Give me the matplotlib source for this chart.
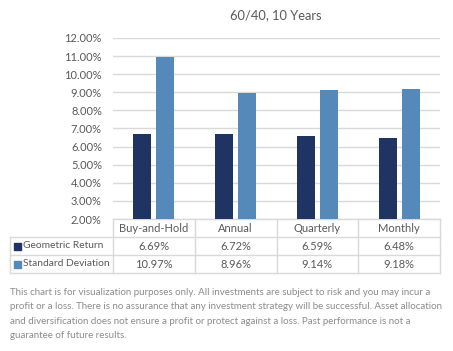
import matplotlib.pyplot as plt
from matplotlib.lines import Line2D
from matplotlib.patches import Rectangle

# data
categories = ["Buy-and-Hold", "Annual", "Quarterly", "Monthly"]
geo_return = [6.69, 6.72, 6.59, 6.48]
std_dev = [10.97, 8.96, 9.14, 9.18]
series_names = ["Geometric Return", "Standard Deviation"]
y_ticks = [2, 3, 4, 5, 6, 7, 8, 9, 10, 11, 12]

title = "60/40, 10 Years"
footer = ("This chart is for visualization purposes only. All investments are subject to risk and you may incur a\n"
          "profit or a loss. There is no assurance that any investment strategy will be successful. Asset allocation\n"
          "and diversification does not ensure a profit or protect against a loss. Past performance is not a\n"
          "guarantee of future results.")

dark = "#1f3463"
light = "#5589b9"
text_col = "#595959"
grid_col = "#d9d9d9"

plt.rcParams['font.family'] = ['Lato', 'DejaVu Sans']

W, H = 453, 351
fig = plt.figure(figsize=(W / 100, H / 100), dpi=100)

def fx(px):
    return px / W

def fy(py):
    return 1 - py / H

top_px, bot_px = 38, 219
ax = fig.add_axes([fx(113), fy(bot_px), fx(440) - fx(113), fy(top_px) - fy(bot_px)])

x = list(range(len(categories)))
w = 0.22
off = 0.14
ax.bar([i - off for i in x], geo_return, width=w, color=dark, zorder=3)
ax.bar([i + off for i in x], std_dev, width=w, color=light, zorder=3)

ax.set_xlim(-0.5, len(categories) - 0.5)
ax.set_ylim(y_ticks[0], y_ticks[-1])
ax.set_yticks(y_ticks)
ax.set_yticklabels(["%.2f%%" % v for v in y_ticks])
ax.set_xticks([])
ax.tick_params(axis='y', length=0, pad=8, labelsize=8, labelcolor=text_col)
ax.grid(axis='y', color=grid_col, linewidth=1, zorder=0)
for s in ax.spines.values():
    s.set_visible(False)

fig.text(fx(276), fy(15), title, ha='center', va='center', fontsize=9.3, color=text_col)

# table under the axes
row_h = 18 / (bot_px - top_px)
tr = ax.get_xaxis_transform()
line_kw = dict(color=grid_col, linewidth=1, clip_on=False)
n = len(categories)
for b in [i - 0.5 for i in range(n + 1)]:
    ax.add_line(Line2D([b, b], [0, -3 * row_h], transform=tr, **line_kw))
ax.add_line(Line2D([-0.5, n - 0.5], [0, 0], transform=tr, **line_kw))
for k in (1, 2, 3):
    yy = fy(bot_px + 18 * k)
    fig.add_artist(Line2D([fx(10), fx(440)], [yy, yy], color=grid_col, linewidth=1))
fig.add_artist(Line2D([fx(10), fx(10)], [fy(bot_px + 18), fy(bot_px + 54)], color=grid_col, linewidth=1))

for i, c in enumerate(categories):
    ax.text(i, -0.5 * row_h, c, transform=tr, ha='center', va='center', fontsize=8, color=text_col)
for r, (vals, name, col) in enumerate([(geo_return, series_names[0], dark), (std_dev, series_names[1], light)]):
    yc = -(1.5 + r) * row_h
    for i, v in enumerate(vals):
        ax.text(i, yc, "%.2f%%" % v, transform=tr, ha='center', va='center', fontsize=8, color=text_col)
    ypx = bot_px + 18 * (1.5 + r)
    fig.add_artist(Rectangle((fx(14), fy(ypx + 3.5)), fx(7), 7 / H, color=col))
    fig.text(fx(23), fy(ypx), name, ha='left', va='center', fontsize=7.4, color=text_col)

fig.text(fx(10), fy(288), footer, ha='left', va='top', fontsize=7.0, color="#8c8c8c", linespacing=1.78)

fig.savefig("out.png", dpi=100, facecolor="white")
